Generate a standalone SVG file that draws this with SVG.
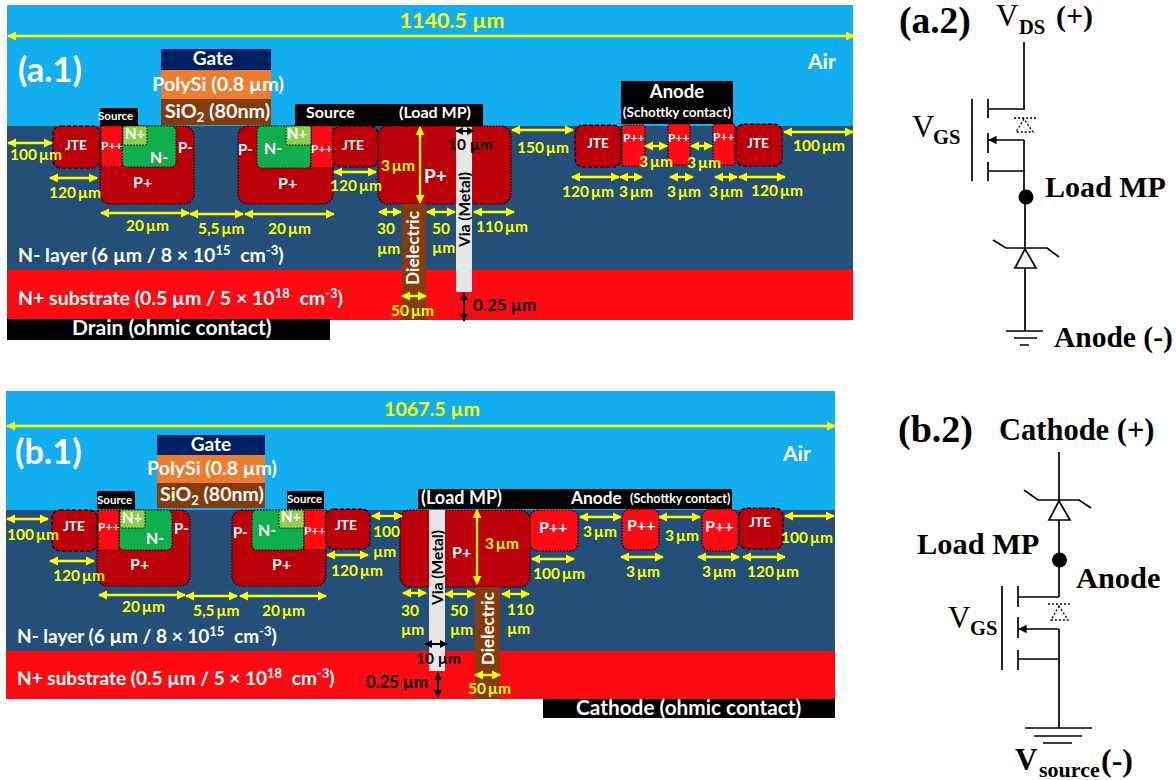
<svg xmlns="http://www.w3.org/2000/svg" width="1176" height="780" viewBox="0 0 1176 780">
<style>
text{font-family:"Lato","Liberation Sans",sans-serif;font-weight:700}
.w{fill:#fff}.k{fill:#000}.y{fill:#ff0}
.s12{font-size:12px}.s13{font-size:13.500px}.s14{font-size:15px}.s15{font-size:16px}.s16{font-size:16px}.s17{font-size:17px}.s18{font-size:21px}
.lab{font-size:15.500px;fill:#ff0;word-spacing:-2px}
.air{fill:#13aef0}.nl{fill:#234f79}.ns{fill:#fe0a12}
.pp{fill:#bb0009;stroke:#000;stroke-width:1.2;stroke-dasharray:1.5 1.5}
.jte{fill:#bb0009;stroke:#000;stroke-width:1.2;stroke-dasharray:4 2}
.ppp{fill:#fe0a12;stroke:#000;stroke-width:1.2;stroke-dasharray:1.5 1.5}
.gn{fill:#10ae4c;stroke:#000;stroke-width:1;stroke-dasharray:1.5 1.5}
.np{fill:#8fce4e;stroke:#000;stroke-width:1;stroke-dasharray:1.5 1.5}
.gate{fill:#012061}.poly{fill:#ed7d31}.sio{fill:#843c0c}.via{fill:#e6e6e6}.blk{fill:#000}
.ay{stroke:#ff0;stroke-width:2.300;fill:none;marker-start:url(#hy);marker-end:url(#hy)}
.ak{stroke:#000;stroke-width:2;fill:none;marker-start:url(#hk);marker-end:url(#hk)}
.c{stroke:#000;stroke-width:1.700;fill:none}
.cw{stroke:#000;stroke-width:1.700;fill:#fff}
.cd{stroke:#000;stroke-width:1.300;fill:none;stroke-dasharray:2 2}
.r{font-family:"Liberation Serif",serif;font-weight:700;fill:#000}
.rn{font-family:"Liberation Serif",serif;font-weight:400;fill:#000}
</style>
<defs>
<marker id="hy" viewBox="0 0 10 10" refX="9" refY="5" markerWidth="4" markerHeight="4.500" orient="auto-start-reverse"><path d="M0 0L10 5L0 10z" fill="#ff0"/></marker>
<marker id="hk" viewBox="0 0 10 10" refX="9" refY="5" markerWidth="4" markerHeight="4.500" orient="auto-start-reverse"><path d="M0 0L10 5L0 10z" fill="#000"/></marker>
<marker id="hb" viewBox="0 0 10 10" refX="9" refY="5" markerWidth="5" markerHeight="5" orient="auto"><path d="M0 0L10 5L0 10z" fill="#000"/></marker>
</defs>
<rect width="1176" height="780" fill="#fff"/>

<g id="panel-a-layers">
<rect class="air" x="7" y="5" width="846" height="121"/>
<rect class="nl" x="7" y="126" width="846" height="144"/>
<rect class="ns" x="7" y="270" width="846" height="50"/>
<text class="w" x="18" y="82" font-size="34.500">(a.1)</text>
<text class="w s18" x="808" y="69">Air</text>
<text class="w" font-size="19.500" x="18" y="262">N- layer (6 µm / 8 × 10<tspan font-size="13" dy="-7">15</tspan><tspan dx="5" dy="7"> cm</tspan><tspan font-size="13" dy="-7">-3</tspan><tspan dy="7">)</tspan></text>
<text class="w" font-size="19.500" x="18" y="305">N+ substrate (0.5 µm / 5 × 10<tspan font-size="13" dy="-7">18</tspan><tspan dx="5" dy="7"> cm</tspan><tspan font-size="13" dy="-7">-3</tspan><tspan dy="7">)</tspan></text>
</g>
<g id="a-drain"><rect class="blk" x="7" y="319" width="323" height="21"/><text class="w" x="72" y="335" font-size="21">Drain (ohmic contact)</text></g>
<g id="a-gate">
<rect class="gate" x="161" y="49" width="110" height="21"/><rect class="poly" x="161" y="70" width="110" height="29"/><rect class="sio" x="161" y="99" width="110" height="26"/>
<text class="w" x="213" y="65" font-size="19" text-anchor="middle">Gate</text>
<text class="w" x="218" y="91" font-size="19.800" text-anchor="middle">PolySi (0.8 µm)</text>
<text class="w" x="165" y="118" font-size="19.800">SiO<tspan font-size="13" dy="4">2</tspan><tspan dy="-4"> (80nm)</tspan></text>
</g>
<g id="a-source-left"><rect class="blk" x="100" y="108" width="38" height="18"/><text class="w" x="98" y="120" font-size="11.500">Source</text></g>
<g id="a-source-load"><rect class="blk" x="295" y="104" width="188" height="22"/><text class="w" font-size="16" x="306" y="118">Source</text><text class="w" font-size="16" x="399" y="118">(Load MP)</text></g>
<g id="a-anode"><rect class="blk" x="621" y="81" width="112" height="43"/><text class="w" font-size="18.500" x="677" y="98" text-anchor="middle">Anode</text><text class="w" x="677" y="117" font-size="13.500" text-anchor="middle">(Schottky contact)</text></g>
<g id="a-jte1"><rect class="jte" x="53" y="126" width="47" height="42" rx="8"/><text class="w s13" x="65" y="150">JTE</text></g>
<g id="a-cell1">
<rect class="pp" x="100" y="126" width="94" height="78" rx="10"/>
<rect class="gn" x="122" y="126" width="54" height="41" rx="5"/>
<rect class="ppp" x="101" y="126" width="21" height="41"/>
<rect class="np" x="123" y="126" width="24" height="19" rx="2"/>
<text class="w" x="101" y="150" font-size="12">P++</text>
<text class="w s14" x="125" y="139">N+</text>
<text class="w s15" x="150" y="163">N-</text>
<text class="w s14" x="178" y="153">P-</text>
<text class="w s15" x="133" y="188">P+</text>
</g>
<g id="a-cell2">
<rect class="pp" x="238" y="126" width="95" height="78" rx="10"/>
<rect class="gn" x="257" y="126" width="54" height="42" rx="5"/>
<rect class="ppp" x="311" y="126" width="22" height="42"/>
<rect class="np" x="286" y="126" width="25" height="19" rx="2"/>
<text class="w s14" x="238" y="155">P-</text>
<text class="w s15" x="264" y="154">N-</text>
<text class="w s14" x="287" y="139">N+</text>
<text class="w" x="311" y="153" font-size="12">P++</text>
<text class="w s15" x="278" y="189">P+</text>
</g>
<g id="a-jte2"><rect class="jte" x="333" y="126" width="45" height="41" rx="8"/><text class="w s13" x="342" y="150">JTE</text></g>
<g id="a-load">
<rect class="pp" x="378" y="126" width="133" height="78" rx="10"/>
<text class="w" font-size="19" x="424" y="183">P+</text>
</g>
<g id="a-dielectric"><rect class="sio" x="402" y="204" width="24" height="116"/><text class="w" transform="translate(419 285) rotate(-90)" font-size="17.300">Dielectric</text></g>
<g id="a-via"><rect class="via" x="456" y="127" width="16" height="165"/><text class="k" transform="translate(470 247) rotate(-90)" font-size="15.500">Via (Metal)</text></g>
<g id="a-jte3"><rect class="jte" x="575" y="125" width="46" height="42" rx="8"/><text class="w s13" x="587" y="148">JTE</text></g>
<g id="a-ppp1"><rect class="ppp" x="622" y="125" width="23" height="41" rx="2"/><text class="w" x="623" y="142" font-size="12">P++</text></g>
<g id="a-ppp2"><rect class="ppp" x="668" y="124" width="22" height="41" rx="2"/><text class="w" x="668" y="142" font-size="12">P++</text></g>
<g id="a-ppp3"><rect class="ppp" x="713" y="124" width="22" height="41" rx="2"/><text class="w" x="713" y="141" font-size="12">P++</text></g>
<g id="a-jte4"><rect class="jte" x="736" y="124" width="46" height="42" rx="8"/><text class="w s13" x="747" y="148">JTE</text></g>

<g id="panel-b-layers">
<rect class="air" x="6" y="391" width="829" height="119"/>
<rect class="nl" x="6" y="510" width="829" height="141"/>
<rect class="ns" x="6" y="651" width="829" height="48"/>
<text class="w" x="15" y="464" font-size="34.500">(b.1)</text>
<text class="w s18" x="783" y="461">Air</text>
<text class="w" font-size="19" x="17" y="643">N- layer (6 µm / 8 × 10<tspan font-size="13" dy="-7">15</tspan><tspan dx="5" dy="7"> cm</tspan><tspan font-size="13" dy="-7">-3</tspan><tspan dy="7">)</tspan></text>
<text class="w" font-size="19" x="17" y="685">N+ substrate (0.5 µm / 5 × 10<tspan font-size="13" dy="-7">18</tspan><tspan dx="5" dy="7"> cm</tspan><tspan font-size="13" dy="-7">-3</tspan><tspan dy="7">)</tspan></text>
</g>
<g id="b-cathode"><rect class="blk" x="543" y="699" width="292" height="19"/><text class="w" x="576" y="715" font-size="20.800">Cathode (ohmic contact)</text></g>
<g id="b-gate">
<rect class="gate" x="157" y="435" width="108" height="20"/><rect class="poly" x="157" y="455" width="108" height="28"/><rect class="sio" x="157" y="483" width="108" height="25"/>
<text class="w" x="211" y="451" font-size="19" text-anchor="middle">Gate</text>
<text class="w" x="212" y="475" font-size="19.500" text-anchor="middle">PolySi (0.8 µm)</text>
<text class="w" x="160" y="501" font-size="19.500">SiO<tspan font-size="13" dy="4">2</tspan><tspan dy="-4"> (80nm)</tspan></text>
</g>
<g id="b-source-left"><rect class="blk" x="97" y="491" width="38" height="18"/><text class="w" x="97" y="504" font-size="11.500">Source</text></g>
<g id="b-source-right"><rect class="blk" x="287" y="491" width="37" height="18"/><text class="w" x="287" y="503" font-size="11.500">Source</text></g>
<g id="b-anode"><rect class="blk" x="418" y="489" width="314" height="20"/><text class="w" x="421" y="504" font-size="18">(Load MP)</text><text class="w" x="571" y="504" font-size="17.300">Anode</text><text class="w" x="630" y="503" font-size="12.500">(Schottky contact)</text></g>
<g id="b-jte1"><rect class="jte" x="52" y="510" width="45" height="41" rx="8"/><text class="w s13" x="63" y="531">JTE</text></g>
<g id="b-cell1">
<rect class="pp" x="97" y="510" width="93" height="76" rx="10"/>
<rect class="gn" x="119" y="510" width="53" height="40" rx="5"/>
<rect class="ppp" x="98" y="510" width="21" height="40"/>
<rect class="np" x="120" y="510" width="25" height="18" rx="2"/>
<text class="w" x="98" y="531" font-size="12">P++</text>
<text class="w s14" x="122" y="523">N+</text>
<text class="w s15" x="146" y="544">N-</text>
<text class="w s14" x="174" y="534">P-</text>
<text class="w s15" x="130" y="570">P+</text>
</g>
<g id="b-cell2">
<rect class="pp" x="232" y="510" width="94" height="76" rx="10"/>
<rect class="gn" x="252" y="510" width="52" height="40" rx="5"/>
<rect class="ppp" x="304" y="510" width="22" height="40"/>
<rect class="np" x="279" y="510" width="25" height="18" rx="2"/>
<text class="w s14" x="233" y="538">P-</text>
<text class="w s15" x="258" y="536">N-</text>
<text class="w s14" x="281" y="522">N+</text>
<text class="w" x="304" y="535" font-size="12">P++</text>
<text class="w s15" x="272" y="570">P+</text>
</g>
<g id="b-jte2"><rect class="jte" x="326" y="509" width="44" height="40" rx="8"/><text class="w s13" x="335" y="530">JTE</text></g>
<g id="b-load">
<rect class="pp" x="400" y="510" width="130" height="77" rx="10"/>
<text class="w s15" x="452" y="558">P+</text>
</g>
<g id="b-via"><rect class="via" x="429" y="510" width="16" height="161"/><text class="k" transform="translate(443 605) rotate(-90)" font-size="15.500">Via (Metal)</text></g>
<g id="b-dielectric"><rect class="sio" x="475" y="587" width="25" height="112"/><text class="w" transform="translate(494 665) rotate(-90)" font-size="17">Dielectric</text></g>
<g id="b-ppp1"><rect class="ppp" x="530" y="510" width="48" height="41" rx="8"/><text class="w" x="539" y="533" font-size="16">P++</text></g>
<g id="b-ppp2"><rect class="ppp" x="622" y="509" width="37" height="41" rx="8"/><text class="w" x="627" y="531" font-size="16">P++</text></g>
<g id="b-ppp3"><rect class="ppp" x="702" y="509" width="36" height="42" rx="8"/><text class="w" x="705" y="532" font-size="16">P++</text></g>
<g id="b-jte3"><rect class="jte" x="739" y="508" width="44" height="41" rx="8"/><text class="w s13" x="749" y="527">JTE</text></g>

<g id="connectors">
<path class="ay" d="M8 36H854"/>
<path class="ay" d="M8 143H52"/><path class="ay" d="M50 178H97"/><path class="ay" d="M101 213H189"/><path class="ay" d="M190 214H243"/><path class="ay" d="M245 214H334"/><path class="ay" d="M334 172H376"/>
<path class="ay" d="M420 127V203"/><path class="ay" d="M379 212H401"/><path class="ay" d="M427 212H455"/><path class="ay" d="M474 212H514"/><path class="ay" d="M402 296H426"/>
<path class="ak" d="M464 293V321"/><path class="ak" d="M456 131H474"/>
<path class="ay" d="M512 130H573"/><path class="ay" d="M784 132H853"/><path class="ay" d="M645 146H667"/><path class="ay" d="M691 146H712"/>
<path class="ay" d="M572 177H619"/><path class="ay" d="M620 177H642"/><path class="ay" d="M670 177H693"/><path class="ay" d="M715 177H737"/><path class="ay" d="M739 177H785"/>
<path class="ay" d="M7 426H835"/>
<path class="ay" d="M7 519H48"/><path class="ay" d="M50 561H94"/><path class="ay" d="M99 595H185"/><path class="ay" d="M186 596H237"/><path class="ay" d="M240 596H326"/><path class="ay" d="M327 555H368"/><path class="ay" d="M372 516H402"/>
<path class="ay" d="M403 593H426"/><path class="ay" d="M445 594H475"/><path class="ay" d="M502 594H529"/><path class="ay" d="M477 510V584"/><path class="ay" d="M475 675H500"/>
<path class="ak" d="M425 644H447"/><path class="ak" d="M438 673V697"/>
<path class="ay" d="M580 517H621"/><path class="ay" d="M659 517H700"/><path class="ay" d="M785 516H834"/><path class="ay" d="M532 559H574"/><path class="ay" d="M621 557H663"/><path class="ay" d="M698 557H739"/><path class="ay" d="M743 557H785"/>
</g>

<g id="dimension-labels-a">
<text class="y" font-size="21.500" x="452" y="28" text-anchor="middle">1140.5 µm</text>
<text class="lab" x="10" y="160">100 µm</text><text class="lab" x="49" y="198">120 µm</text><text class="lab" x="126" y="231">20 µm</text><text class="lab" x="198" y="234">5,5 µm</text><text class="lab" x="268" y="234">20 µm</text><text class="lab" x="330" y="191">120 µm</text>
<text class="lab" x="381" y="171">3 µm</text>
<text class="lab" x="377" y="234">30</text><text class="lab" x="377" y="254">µm</text><text class="lab" x="432" y="234">50</text><text class="lab" x="432" y="253">µm</text><text class="lab" x="476" y="232">110 µm</text><text class="lab" x="391" y="316">50 µm</text>
<text class="k" font-size="17" x="473" y="311">0.25 µm</text><text class="k" font-size="15.500" x="448" y="150">10 µm</text>
<text class="lab" x="517" y="153">150 µm</text><text class="lab" x="793" y="151">100 µm</text><text class="lab" x="639" y="167">3 µm</text><text class="lab" x="687" y="168">3 µm</text>
<text class="lab" x="562" y="197">120 µm</text><text class="lab" x="619" y="197">3 µm</text><text class="lab" x="667" y="197">3 µm</text><text class="lab" x="709" y="197">3 µm</text><text class="lab" x="751" y="196">120 µm</text>
</g>
<g id="dimension-labels-b">
<text class="y" font-size="19.700" x="432" y="416" text-anchor="middle">1067.5 µm</text>
<text class="lab" x="7" y="540">100 µm</text><text class="lab" x="53" y="581">120 µm</text><text class="lab" x="122" y="612">20 µm</text><text class="lab" x="193" y="616">5,5 µm</text><text class="lab" x="262" y="616">20 µm</text><text class="lab" x="331" y="576">120 µm</text>
<text class="lab" x="373" y="537">100</text><text class="lab" x="373" y="557">µm</text><text class="lab" x="401" y="616">30</text><text class="lab" x="401" y="635">µm</text><text class="lab" x="450" y="616">50</text><text class="lab" x="450" y="635">µm</text><text class="lab" x="507" y="615">110</text><text class="lab" x="507" y="634">µm</text>
<text class="lab" x="485" y="549">3 µm</text><text class="lab" x="468" y="694">50 µm</text>
<text class="k" font-size="15.500" x="416" y="664">10 µm</text><text class="k" font-size="16.700" x="366" y="688">0.25 µm</text>
<text class="lab" x="583" y="537">3 µm</text><text class="lab" x="665" y="541">3 µm</text><text class="lab" x="781" y="543">100 µm</text><text class="lab" x="533" y="579">100 µm</text><text class="lab" x="626" y="577">3 µm</text><text class="lab" x="702" y="577">3 µm</text><text class="lab" x="747" y="577">120 µm</text>
</g>

<g id="circuit-a">
<text class="r" x="899" y="33" font-size="37.500">(a.2)</text>
<text class="rn" x="996" y="26" font-size="31">V</text><text class="r" x="1019" y="34" font-size="20.500">DS</text><text class="r" x="1056" y="26" font-size="30">(+)</text>
<path class="c" d="M1024 42V109M972 99V181M988 99V118M988 133V153M988 162V181M988 109H1025M988 171H1025M1024 140V197"/>
<path class="c" d="M1024 140H989" marker-end="url(#hb)"/>
<path class="cd" d="M1014 118H1036M1024 119L1016 132H1033Z"/>
<circle cx="1026" cy="197" r="7.500" fill="#000"/>
<path class="c" d="M1025 197V331M993 240L1006 248H1047L1059 257"/>
<path class="cw" d="M1025 249L1015 268H1036Z"/>
<path class="c" d="M1006 331H1043M1014 338H1037M1020 345H1029"/>
<text class="rn" x="912" y="137" font-size="31">V</text><text class="r" x="933" y="144" font-size="20.500">GS</text>
<text class="r" x="1045" y="197" font-size="30">Load MP</text>
<text class="r" x="1054" y="347" font-size="29.500">Anode (-)</text>
</g>
<g id="circuit-b">
<text class="r" x="898" y="442" font-size="38">(b.2)</text>
<text class="r" x="999" y="440" font-size="30.500">Cathode (+)</text>
<path class="c" d="M1059 452V560M1024 490L1038 500H1079L1091 508"/>
<path class="cw" d="M1059 501L1049 520H1070Z"/>
<circle cx="1059.500" cy="560" r="7.500" fill="#000"/>
<text class="r" x="917" y="554" font-size="30.400">Load MP</text>
<text class="r" x="1076" y="588" font-size="30.400">Anode</text>
<path class="c" d="M1059 560V597M1002 586V670M1018 586V607M1018 617V638M1018 650V670M1018 597H1059M1018 659H1059M1059 629V728"/>
<path class="c" d="M1059 629H1019" marker-end="url(#hb)"/>
<path class="cd" d="M1048 604H1072M1059 606L1051 620H1068Z"/>
<path class="c" d="M1025 728H1092M1034 736H1082M1043 743H1072"/>
<text class="rn" x="948" y="628" font-size="31">V</text><text class="r" x="970" y="635" font-size="20.500">GS</text>
<text class="r" x="1015" y="770" font-size="31">V</text><text class="r" x="1039" y="777" font-size="22">source</text><text class="r" x="1101" y="771" font-size="32">(-)</text>
</g>
</svg>
